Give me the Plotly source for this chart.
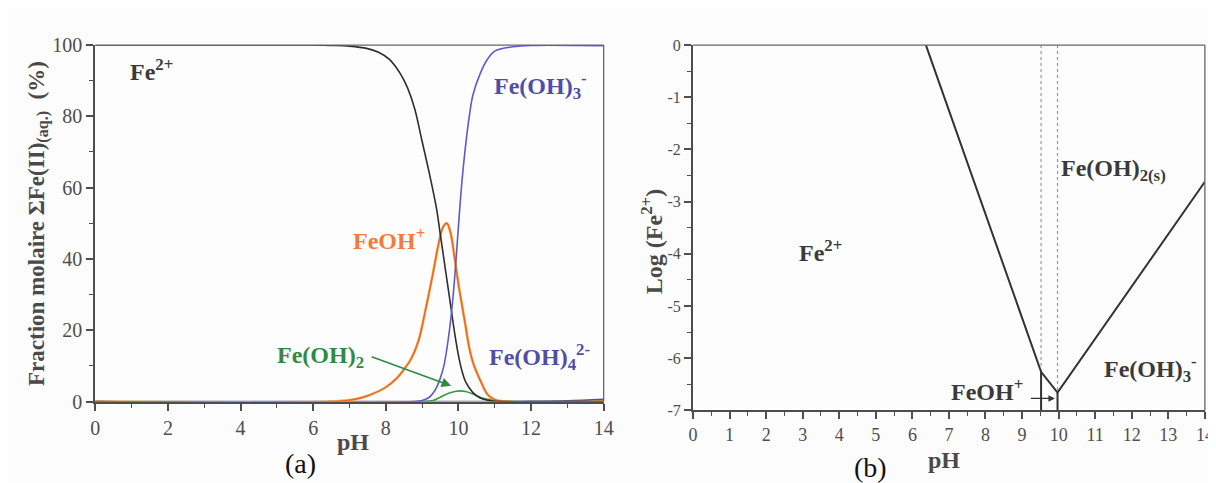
import plotly.graph_objects as go

# ---------------- data: panel (a) speciation curves (pH, % of total Fe(II)) ----------------
fe2_ph = [0, 2, 4, 6, 6.5, 7, 7.5, 7.8, 8.1, 8.4, 8.6, 8.8, 9.0, 9.2, 9.4, 9.5, 9.6, 9.7, 9.8, 9.9, 10.0, 10.1, 10.2, 10.4, 10.6, 10.8, 11, 12, 14]
fe2_val = [100, 100, 100, 100, 99.9, 99.7, 99.0, 98, 96, 92, 88, 82, 73, 64, 54, 47, 40, 33, 26, 19, 13, 8.5, 5.5, 2.5, 1, 0.4, 0.1, 0, 0]

feoh_ph = [0, 6.5, 7.0, 7.3, 7.6, 8.0, 8.3, 8.5, 8.7, 8.9, 9.1, 9.3, 9.45, 9.58, 9.68, 9.78, 9.9, 10.0, 10.1, 10.2, 10.3, 10.4, 10.5, 10.6, 10.8, 11.0, 11.3, 14]
feoh_val = [0, 0, 0.4, 1.0, 2, 4, 6.5, 9, 12, 17, 26, 36, 44, 49, 50, 47.5, 40, 33, 27, 21, 15, 11, 8.3, 6, 2, 0.5, 0, 0]

feoh3_ph = [0, 8.8, 9.0, 9.2, 9.3, 9.4, 9.5, 9.6, 9.7, 9.8, 9.9, 10.0, 10.1, 10.2, 10.3, 10.4, 10.6, 10.8, 11.0, 11.5, 12, 14]
feoh3_val = [0, 0, 0.3, 1.2, 2.3, 4, 6.5, 10, 16, 24, 35, 49, 62, 72, 80, 86, 92, 96, 98.3, 99.5, 99.9, 99.8]

feoh2_ph = [0, 9.0, 9.3, 9.5, 9.7, 9.9, 10.05, 10.2, 10.4, 10.6, 10.8, 11.0, 11.4, 14]
feoh2_val = [0, 0, 0.3, 1.2, 2.2, 2.8, 3.0, 2.8, 2.1, 1.2, 0.6, 0.3, 0, 0]

feoh4_ph = [0, 11, 12, 13, 14]
feoh4_val = [0, 0, 0.05, 0.2, 0.6]

# ---------------- data: panel (b) solubility diagram ----------------
bound_ph = [6.37, 9.52, 9.97, 14]
bound_log = [0, -6.26, -6.66, -2.62]
sep_ph = [9.52, 9.97]          # vertical separators (FeOH+ domain)
sep_bottom = [-6.26, -6.66]

# ---------------- tick labels ----------------
a_xticks = [0, 2, 4, 6, 8, 10, 12, 14]
a_yticks = [0, 20, 40, 60, 80, 100]
b_xticks = list(range(0, 15))
b_yticks = [0, -1, -2, -3, -4, -5, -6, -7]
b_yticktext = ["0", "-1", "-2", "-3", "-4", "-5", "-6", "-7"]

SERIF = "Liberation Serif"
AX = "#4e4e4e"

fig = go.Figure()

def curve(x, y, color, xa="x", ya="y", width=1.6):
    fig.add_trace(go.Scatter(x=x, y=y, mode="lines", xaxis=xa, yaxis=ya,
                             line=dict(color=color, width=width, shape="spline", smoothing=1.0),
                             showlegend=False, hoverinfo="skip"))

curve(feoh4_ph, feoh4_val, "#5a4aa8")
curve(feoh2_ph, feoh2_val, "#3a9a46")
curve(feoh_ph, feoh_val, "#f6b040", width=2.6)
curve(feoh_ph, feoh_val, "#f0602e", width=1.4)
curve(fe2_ph, fe2_val, "#2e2e2e")
curve(feoh3_ph, feoh3_val, "#5a5ad0")

# panel (b)
for xp in sep_ph:
    fig.add_trace(go.Scatter(x=[xp, xp], y=[0, -7], mode="lines", xaxis="x2", yaxis="y2",
                             line=dict(color="#8c8cf0", width=1.2, dash="dot"),
                             showlegend=False, hoverinfo="skip"))
fig.add_trace(go.Scatter(x=bound_ph, y=bound_log, mode="lines", xaxis="x2", yaxis="y2",
                         line=dict(color="#333333", width=2), showlegend=False, hoverinfo="skip"))
for xp, yb in zip(sep_ph, sep_bottom):
    fig.add_trace(go.Scatter(x=[xp, xp], y=[yb, -7], mode="lines", xaxis="x2", yaxis="y2",
                             line=dict(color="#333333", width=2), showlegend=False, hoverinfo="skip"))


def axis(domain, rng, tickvals, minor_dt, anchor, size, ticktext=None):
    d = dict(domain=domain, range=rng, tickmode="array", tickvals=tickvals,
             showline=True, linewidth=2.2, linecolor=AX, mirror=False, showgrid=False,
             zeroline=False, ticks="outside", ticklen=7, tickcolor=AX, tickwidth=1.6,
             tickfont=dict(family=SERIF, size=size, color=AX),
             minor=dict(ticks="outside", dtick=minor_dt, ticklen=4, tickcolor=AX, tickwidth=1.4,
                        showgrid=False),
             anchor=anchor)
    if ticktext is not None:
        d["ticktext"] = ticktext
    return d


fig.update_layout(
    width=1216, height=483,
    margin=dict(l=0, r=0, t=0, b=0),
    font=dict(family=SERIF, size=17, color=AX),
    paper_bgcolor="#fcfcfc", plot_bgcolor="#fdfdfd",
    xaxis=axis([0.0685, 0.4918], [0, 14], a_xticks, 1, "y", 20),
    yaxis=axis([0.1702, 0.9435], [0, 100], a_yticks, 10, "x", 20),
    xaxis2=axis([0.5662, 0.9924], [0, 14], b_xticks, 0.5, "y2", 18),
    yaxis2=axis([0.151, 0.9435], [-7, 0], b_yticks, 0.5, "x2", 16, b_yticktext),
)

# thin top and right frame lines
for xr, yr in (("x domain", "y domain"), ("x2 domain", "y2 domain")):
    fig.add_shape(type="line", xref=xr, yref=yr, x0=0, x1=1, y0=1, y1=1,
                  line=dict(color="#666666", width=1.3))
    fig.add_shape(type="line", xref=xr, yref=yr, x0=1, x1=1, y0=0, y1=1,
                  line=dict(color="#666666", width=1.3))

LBL = 24
def lab(text, x, y, color, xref="x", yref="y", size=LBL):
    fig.add_annotation(text=text, x=x, y=y, xref=xref, yref=yref, showarrow=False,
                       xanchor="center", yanchor="middle",
                       font=dict(family=SERIF, size=size, color=color))

# panel (a) labels
lab("<b>Fe<sup>2+</sup></b>", 1.54, 93, "#3a3a3a")
lab("<b>Fe(OH)<sub>3</sub><sup>-</sup></b>", 12.25, 88.5, "#4e4ea8")
lab("<b>FeOH<sup>+</sup></b>", 8.1, 45.5, "#f27a40")
lab("<b>Fe(OH)<sub>2</sub></b>", 6.2, 12.5, "#2f8a44")
lab("<b>Fe(OH)<sub>4</sub><sup>2-</sup></b>", 12.22, 12.5, "#4e4ea8")
fig.add_annotation(x=9.8, y=4.4, ax=7.57, ay=12.7, xref="x", yref="y", axref="x", ayref="y",
                   text="", showarrow=True, arrowhead=2, arrowsize=1.2, arrowwidth=1.6,
                   arrowcolor="#2f8a44")

# panel (b) labels
lab("<b>Fe<sup>2+</sup></b>", 3.5, -3.95, "#3a3a3a", "x2", "y2")
lab("<b>Fe(OH)<sub>2(s)</sub></b>", 11.5, -2.4, "#3a3a3a", "x2", "y2")
lab("<b>Fe(OH)<sub>3</sub><sup>-</sup></b>", 12.5, -6.2, "#3a3a3a", "x2", "y2")
lab("<b>FeOH<sup>+</sup></b>", 8.05, -6.6, "#3a3a3a", "x2", "y2")
fig.add_annotation(x=9.9, y=-6.77, ax=9.2, ay=-6.77, xref="x2", yref="y2", axref="x2", ayref="y2",
                   text="", showarrow=True, arrowhead=2, arrowsize=1, arrowwidth=1.3,
                   arrowcolor="#333333")

# axis titles and panel letters
def ptext(text, x, y, size, angle=0, bold=True):
    fig.add_annotation(text=("<b>%s</b>" % text) if bold else text, x=x, y=y, xref="paper", yref="paper",
                       showarrow=False, textangle=angle, xanchor="center", yanchor="middle",
                       font=dict(family=SERIF, size=size, color="#4a4a4a" if bold else "#111111"))

ptext("Fraction molaire ΣFe(II)<sub>(aq.)</sub>  (%)", 0.0206, 0.557, 23, angle=-90)
ptext("pH", 0.283, 0.083, 24)
ptext("(a)", 0.239, 0.035, 28, bold=False)
ptext("Log (Fe<sup>2+</sup>)", 0.532, 0.518, 24, angle=-90)
ptext("pH", 0.7755, 0.043, 24)
ptext("(b)", 0.714, 0.027, 28, bold=False)

fig.write_html("out.html")
